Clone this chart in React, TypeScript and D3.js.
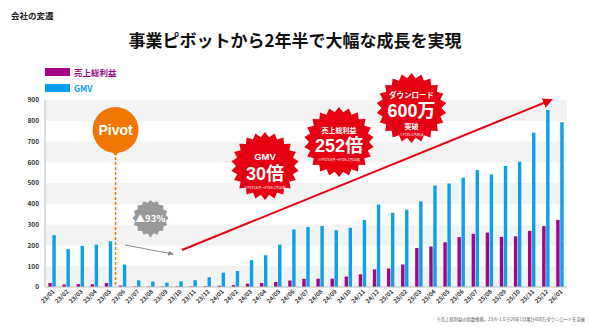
import React from "react";
import * as d3 from "d3";

const months = [
  "23/01","23/02","23/03","23/04","23/05","23/06","23/07","23/08","23/09","23/10","23/11","23/12",
  "24/01","24/02","24/03","24/04","24/05","24/06","24/07","24/08","24/09","24/10","24/11","24/12",
  "25/01","25/02","25/03","25/04","25/05","25/06","25/07","25/08","25/09","25/10","25/11","25/12",
  "26/01",
];
const grossProfit = [
  19, 12, 14, 13, 19, 7, 3, 2, 2, 3, 3, 4,
  6, 9, 16, 19, 24, 31, 39, 40, 40, 50, 61, 85,
  89, 108, 188, 195, 215, 240, 256, 262, 241, 244, 270, 293,
  323,
];
const gmv = [
  249, 182, 198, 204, 220, 108, 32, 26, 21, 27, 33, 47,
  69, 77, 129, 153, 204, 277, 289, 294, 273, 285, 322, 397,
  357, 372, 412, 488, 498, 526, 563, 542, 583, 603, 743, 852,
  793,
];
const yTicks = [0, 100, 200, 300, 400, 500, 600, 700, 800, 900];
const seriesNames = ["売上総利益", "GMV"];

const W = 590, H = 327;
const M = { left: 45, right: 567, top: 100, bottom: 287 };
const MAGENTA = "#a0068a";
const BLUE = "#0aa0ea";
const RED = "#e60012";
const ORANGE = "#f07800";
const FONT = "'Noto Sans CJK JP', 'Noto Sans', sans-serif";
const NUMFONT = "'Liberation Sans', 'Noto Sans CJK JP', sans-serif";

function starPath(cx: number, cy: number, rOut: number, rIn: number, n: number) {
  const pts: [number, number][] = [];
  for (let i = 0; i < n * 2; i++) {
    const a = (i * Math.PI) / n - Math.PI / 2;
    const r = i % 2 === 0 ? rOut : rIn;
    pts.push([cx + r * Math.cos(a), cy + r * Math.sin(a)]);
  }
  return d3.line()(pts)! + "Z";
}

export default function App() {
  const x = d3.scaleBand<string>().domain(months).range([M.left, M.right]).padding(0);
  const y = d3.scaleLinear().domain([0, 900]).range([M.bottom, M.top]);
  const bw = 3.4;
  const bands = d3.range(0, 900, 200);
  const pivotX = x("23/06")!;

  return (
    <svg width={W} height={H} style={{ position: "absolute", left: 0, top: 0, background: "#fff" }} fontFamily={FONT}>
      <defs>
        <marker id="ahRed" viewBox="0 0 10 10" refX="8" refY="5" markerWidth="5" markerHeight="5" orient="auto">
          <path d="M0,0 L10,5 L0,10 Z" fill={RED} />
        </marker>
        <marker id="ahGray" viewBox="0 0 10 10" refX="8" refY="5" markerWidth="6" markerHeight="6" orient="auto">
          <path d="M0,1 L10,5 L0,9 Z" fill="#8a8a8a" />
        </marker>
      </defs>
      <text x={11} y={19} fontSize={8.5} fontWeight={700} fill="#222">会社の変遷</text>
      <text x={295} y={47} fontSize={17} fontWeight={700} fill="#111" textAnchor="middle">事業ピボットから2年半で大幅な成長を実現</text>

      {/* legend */}
      <rect x={45} y={68} width={25} height={8} fill={MAGENTA} />
      <text x={74} y={75.5} fontSize={8.5} fontWeight={700} fill={MAGENTA}>{seriesNames[0]}</text>
      <rect x={45} y={84} width={25} height={8} fill={BLUE} />
      <text x={74} y={91.5} fontSize={8.5} fontWeight={700} fill={BLUE}>{seriesNames[1]}</text>

      {/* grid bands */}
      {bands.map((b) => (
        <rect key={b} x={M.left} y={y(b + 100)} width={M.right - M.left} height={y(b) - y(b + 100)} fill="#f3f3f3" />
      ))}
      {yTicks.map((t) => (
        <text key={t} x={39} y={y(t) + 2.3} fontSize={6.5} fontWeight={700} fill="#333" textAnchor="end">{t}</text>
      ))}
      <line x1={M.left} x2={M.left} y1={M.top} y2={M.bottom} stroke="#bbb" strokeWidth={1} />

      {/* bars */}
      {months.map((m, i) => {
        const c = x(m)! + x.bandwidth() / 2;
        return (
          <g key={m}>
            <rect x={c - bw - 0.3} y={y(grossProfit[i])} width={bw} height={y(0) - y(grossProfit[i])} fill={MAGENTA} />
            <rect x={c + 0.3} y={y(gmv[i])} width={bw} height={y(0) - y(gmv[i])} fill={BLUE} />
            <text transform={`translate(${c + 3},${292}) rotate(-45)`} fontSize={6} fontWeight={700} fill="#333" textAnchor="end">{m}</text>
          </g>
        );
      })}
      <line x1={M.left} x2={M.right} y1={M.bottom} y2={M.bottom} stroke="#bbb" strokeWidth={1} />

      {/* pivot */}
      <line x1={pivotX} x2={pivotX} y1={152} y2={M.bottom} stroke={ORANGE} strokeWidth={1.5} strokeDasharray="3,2" />
      <circle cx={pivotX} cy={130} r={23} fill={ORANGE} />
      <path d={`M${pivotX - 4},${151} L${pivotX + 4},${151} L${pivotX},${156} Z`} fill={ORANGE} />
      <text x={pivotX} y={135} fontSize={14} fontWeight={700} fill="#fff" textAnchor="middle" fontFamily={NUMFONT}>Pivot</text>

      {/* gray badge */}
      <path d={starPath(150.5, 218, 18, 15.5, 16)} fill="#999" />
      <path d={`M147,232 L154,232 L150.5,238 Z`} fill="#999" />
      <text x={150.5} y={221.5} fontSize={9.5} fontWeight={700} fill="#fff" textAnchor="middle">▲93%</text>
      <line x1={125} y1={245} x2={173} y2={254} stroke="#8a8a8a" strokeWidth={1} markerEnd="url(#ahGray)" />

      {/* red arrow */}
      <line x1={182} y1={250} x2={551} y2={100} stroke={RED} strokeWidth={2} markerEnd="url(#ahRed)" />

      {/* red badges */}
      <path d={starPath(265, 166, 34, 29, 22)} fill={RED} />
      <text x={265} y={160} fontSize={9.5} fontWeight={700} fill="#fff" textAnchor="middle" fontFamily={NUMFONT}>GMV</text>
      <text x={265} y={179.5} fontSize={18} fontWeight={700} fill="#fff" textAnchor="middle" fontFamily={NUMFONT}>30倍</text>
      <text x={265} y={188.5} fontSize={3.5} fill="#fff" textAnchor="middle">※FY23.6月→FY26.1月比較</text>

      <path d={starPath(339, 142, 35, 30, 22)} fill={RED} />
      <text x={339} y={132.5} fontSize={7} fontWeight={700} fill="#fff" textAnchor="middle">売上総利益</text>
      <text x={339} y={152} fontSize={18} fontWeight={700} fill="#fff" textAnchor="middle" fontFamily={NUMFONT}>252倍</text>
      <text x={339} y={160.5} fontSize={3.5} fill="#fff" textAnchor="middle">※FY23.6月→FY26.1月比較</text>

      <path d={starPath(411.5, 108, 35, 30, 22)} fill={RED} />
      <text x={411.5} y={97.5} fontSize={7.5} fontWeight={700} fill="#fff" textAnchor="middle">ダウンロード</text>
      <text x={411.5} y={116.5} fontSize={18} fontWeight={700} fill="#fff" textAnchor="middle" fontFamily={NUMFONT}>600万</text>
      <text x={411.5} y={128.5} fontSize={7} fontWeight={700} fill="#fff" textAnchor="middle">突破</text>
      <text x={411.5} y={136} fontSize={3.5} fill="#fff" textAnchor="middle">※FY26.1月時点</text>

      <text x={585} y={321} fontSize={4.3} fill="#555" textAnchor="end">※売上総利益の指数推移。23/6=1.0 ※26年1月累計600万ダウンロードを突破</text>
    </svg>
  );
}
